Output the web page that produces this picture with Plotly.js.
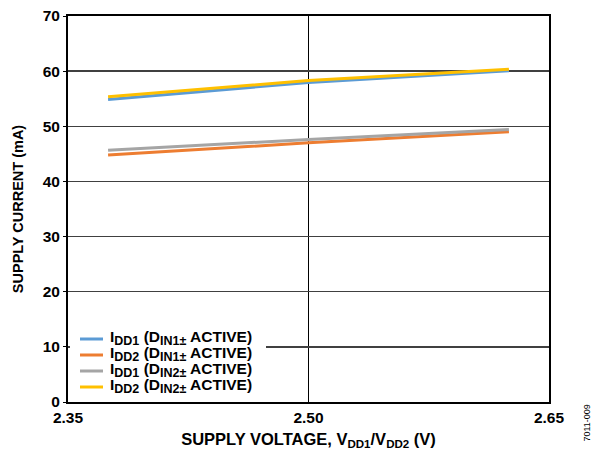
<!DOCTYPE html>
<html>
<head>
<meta charset="utf-8">
<script src="https://cdn.plot.ly/plotly-3.0.1.min.js"></script>
<style>html,body{margin:0;padding:0;background:#fff;}#chart{width:593px;height:450px;}</style>
</head>
<body>
<div id="chart"></div>
<script>
const voltage = [2.375, 2.5, 2.625];
const idd1_din1 = [54.85, 57.95, 60.05];
const idd2_din1 = [44.8, 47.0, 49.0];
const idd1_din2 = [45.65, 47.6, 49.4];
const idd2_din2 = [55.35, 58.3, 60.35];
const seriesNames = [
  "I<sub>DD1</sub> (D<sub>IN1±</sub> ACTIVE)",
  "I<sub>DD2</sub> (D<sub>IN1±</sub> ACTIVE)",
  "I<sub>DD1</sub> (D<sub>IN2±</sub> ACTIVE)",
  "I<sub>DD2</sub> (D<sub>IN2±</sub> ACTIVE)"
];
const colors = ["#5B9BD5", "#ED7D31", "#A5A5A5", "#FFC000"];
const xTicks = [2.35, 2.50, 2.65];
const xTickText = ["2.35", "2.50", "2.65"];
const yTicks = [0, 10, 20, 30, 40, 50, 60, 70];

const FAM = "Liberation Sans, Arial, sans-serif";
const seriesVals = [idd1_din1, idd2_din1, idd1_din2, idd2_din2];
const traces = seriesVals.map((v, i) => ({
  x: voltage, y: v, type: "scatter", mode: "lines",
  name: seriesNames[i], showlegend: false,
  line: {color: colors[i], width: 3}
}));

// plot area geometry in pixels (for placing the custom legend)
const M = {l: 68, r: 44, t: 16, b: 48};
const W = 593, H = 450;
const pw = W - M.l - M.r, ph = H - M.t - M.b;
const px = X => (X - M.l) / pw;
const py = Y => (H - M.b - Y) / ph;
// slightly larger subscripts, as in the reference
const bigSub = s => s.replace(/<sub>(.*?)<\/sub>/g, "<sub><span style='font-size:12.5px'>$1</span></sub>");

const shapes = [{
  type: "rect", xref: "paper", yref: "paper", layer: "above",
  x0: px(70), x1: px(266), y0: py(396), y1: py(329),
  fillcolor: "#fff", line: {width: 0}
}];
const annotations = [];
const rowY = [339, 355, 371, 387];
seriesNames.forEach((n, i) => {
  shapes.push({
    type: "line", xref: "paper", yref: "paper", layer: "above",
    x0: px(80), x1: px(103), y0: py(rowY[i]), y1: py(rowY[i]),
    line: {color: colors[i], width: 3}
  });
  annotations.push({
    text: bigSub(n), xref: "paper", yref: "paper", x: px(108), y: py(rowY[i]),
    xanchor: "left", yanchor: "middle", showarrow: false, yshift: 1,
    font: {family: FAM, size: 15.5, color: "#000", weight: "bold"}
  });
});
annotations.push({
  text: "7011-009", xref: "paper", yref: "paper", x: 1, y: 0,
  xanchor: "left", yanchor: "bottom", xshift: 30, yshift: -42, textangle: -90,
  showarrow: false, font: {family: FAM, size: 9, color: "#000"}
});

const layout = {
  width: W, height: H,
  margin: M,
  paper_bgcolor: "#fff", plot_bgcolor: "#fff",
  font: {family: FAM, size: 14, color: "#000"},
  showlegend: false,
  xaxis: {
    range: [2.35, 2.65], tickvals: xTicks, ticktext: xTickText,
    showgrid: true, gridcolor: "#000", gridwidth: 1,
    showline: true, linecolor: "#000", linewidth: 2, mirror: true,
    zeroline: false, ticks: "", ticklen: 0,
    tickfont: {family: FAM, size: 15.5, color: "#000", weight: "bold"},
    title: {text: "SUPPLY VOLTAGE, V<sub>DD1</sub>/V<sub>DD2</sub> (V)", standoff: 16,
      font: {family: FAM, size: 16.5, color: "#000", weight: "bold"}}
  },
  yaxis: {
    range: [0, 70], tickvals: yTicks,
    showgrid: true, gridcolor: "#404040", gridwidth: 1.5,
    showline: true, linecolor: "#000", linewidth: 2, mirror: true,
    zeroline: false, ticks: "outside", ticklen: 3, tickcolor: "#000",
    tickfont: {family: FAM, size: 15.5, color: "#000", weight: "bold"},
    title: {text: "SUPPLY CURRENT (mA)", standoff: 16,
      font: {family: FAM, size: 14.5, color: "#000", weight: "bold"}}
  },
  shapes: shapes,
  annotations: annotations
};
Plotly.newPlot("chart", traces, layout, {displayModeBar: false, staticPlot: true});
</script>
</body>
</html>
